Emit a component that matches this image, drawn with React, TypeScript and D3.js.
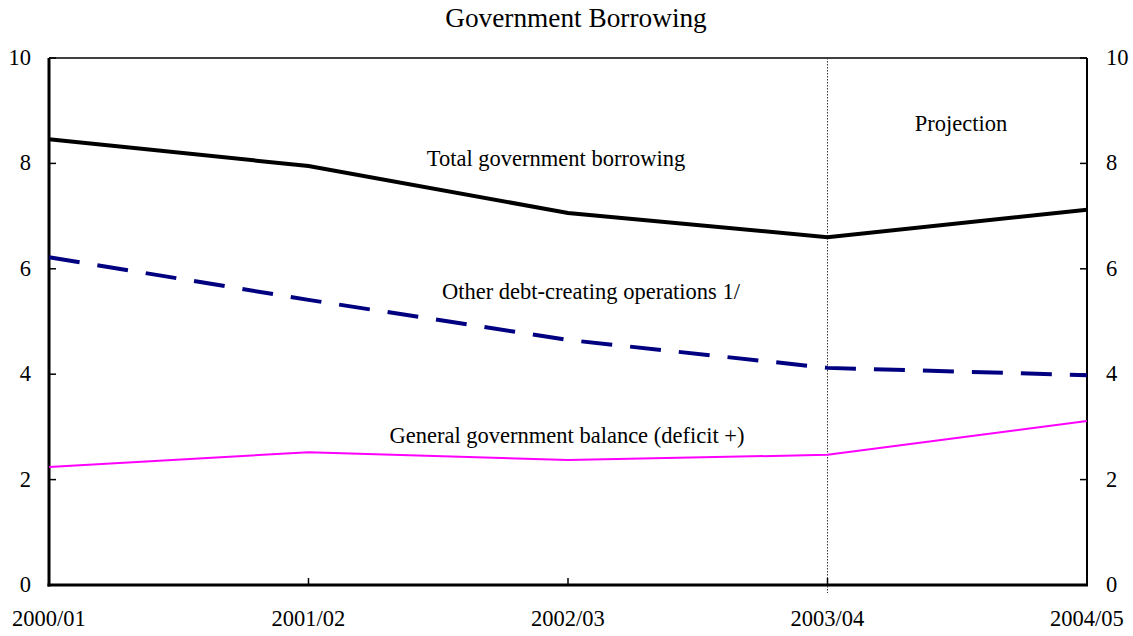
import React from "react";
import * as d3 from "d3";

const years = ["2000/01", "2001/02", "2002/03", "2003/04", "2004/05"];
const totalBorrowing = [8.46, 7.95, 7.06, 6.6, 7.12];
const otherDebt = [6.22, 5.41, 4.65, 4.12, 3.98];
const generalBalance = [2.24, 2.52, 2.37, 2.47, 3.11];
const yTicks = [0, 2, 4, 6, 8, 10];

const W = 1133, H = 636;
const left = 49, right = 1087, top = 58, bottom = 585;
const font = '"Liberation Serif", "Times New Roman", Times, "DejaVu Serif", serif';

export default function App() {
  const x = d3.scalePoint<string>().domain(years).range([left, right]);
  const y = d3.scaleLinear().domain([0, 10]).range([bottom, top]);
  const line = (vals: number[]) =>
    d3.line<number>().x((_, i) => x(years[i])!).y((d) => y(d))(vals) || "";
  const projX = x("2003/04")!;
  const ts = { fontFamily: font, fontSize: 22.5, fill: "black" } as React.CSSProperties;
  return (
    <svg width={W} height={H} style={{ position: "absolute", left: 0, top: 0 }}>
      <rect width={W} height={H} fill="white" />
      <text x={576} y={27} textAnchor="middle" style={{ ...ts, fontSize: 27.3 }}>Government Borrowing</text>
      {/* frame */}
      <line x1={left} x2={right} y1={top} y2={top} stroke="black" strokeWidth={1.5} />
      <line x1={right} x2={right} y1={top} y2={bottom} stroke="black" strokeWidth={2} />
      <line x1={left} x2={left} y1={top} y2={bottom + 1.5} stroke="black" strokeWidth={3} />
      <line x1={left - 1.5} x2={right + 1} y1={bottom} y2={bottom} stroke="black" strokeWidth={3} />
      {/* projection line */}
      <line x1={projX} x2={projX} y1={top} y2={bottom + 8} stroke="#333" strokeWidth={1} strokeDasharray="1.5,1.5" />
      {/* y ticks */}
      {yTicks.map((t) => (
        <g key={t}>
          <line x1={left} x2={left + 7} y1={y(t)} y2={y(t)} stroke="black" strokeWidth={1.5} />
          <line x1={right - 7} x2={right} y1={y(t)} y2={y(t)} stroke="black" strokeWidth={1.5} />
          <text x={31} y={y(t) + 7} textAnchor="end" style={ts}>{t}</text>
          <text x={1106} y={y(t) + 7} textAnchor="start" style={ts}>{t}</text>
        </g>
      ))}
      {/* x ticks */}
      {years.map((yr) => (
        <g key={yr}>
          <line x1={x(yr)!} x2={x(yr)!} y1={bottom} y2={bottom - 7} stroke="black" strokeWidth={1.5} />
          <text x={x(yr)!} y={626} textAnchor="middle" style={ts}>{yr}</text>
        </g>
      ))}
      {/* series */}
      <path d={line(generalBalance)} fill="none" stroke="#FF00FF" strokeWidth={2} />
      <path d={line(otherDebt)} fill="none" stroke="#000080" strokeWidth={4} strokeDasharray="31,18" />
      <path d={line(totalBorrowing)} fill="none" stroke="black" strokeWidth={4} />
      {/* labels */}
      <text x={961} y={131} textAnchor="middle" style={ts}>Projection</text>
      <text x={556} y={166} textAnchor="middle" style={ts}>Total government borrowing</text>
      <text x={591} y={299} textAnchor="middle" style={ts}>Other debt-creating operations 1/</text>
      <text x={567} y={443} textAnchor="middle" style={ts}>General government balance (deficit +)</text>
    </svg>
  );
}
